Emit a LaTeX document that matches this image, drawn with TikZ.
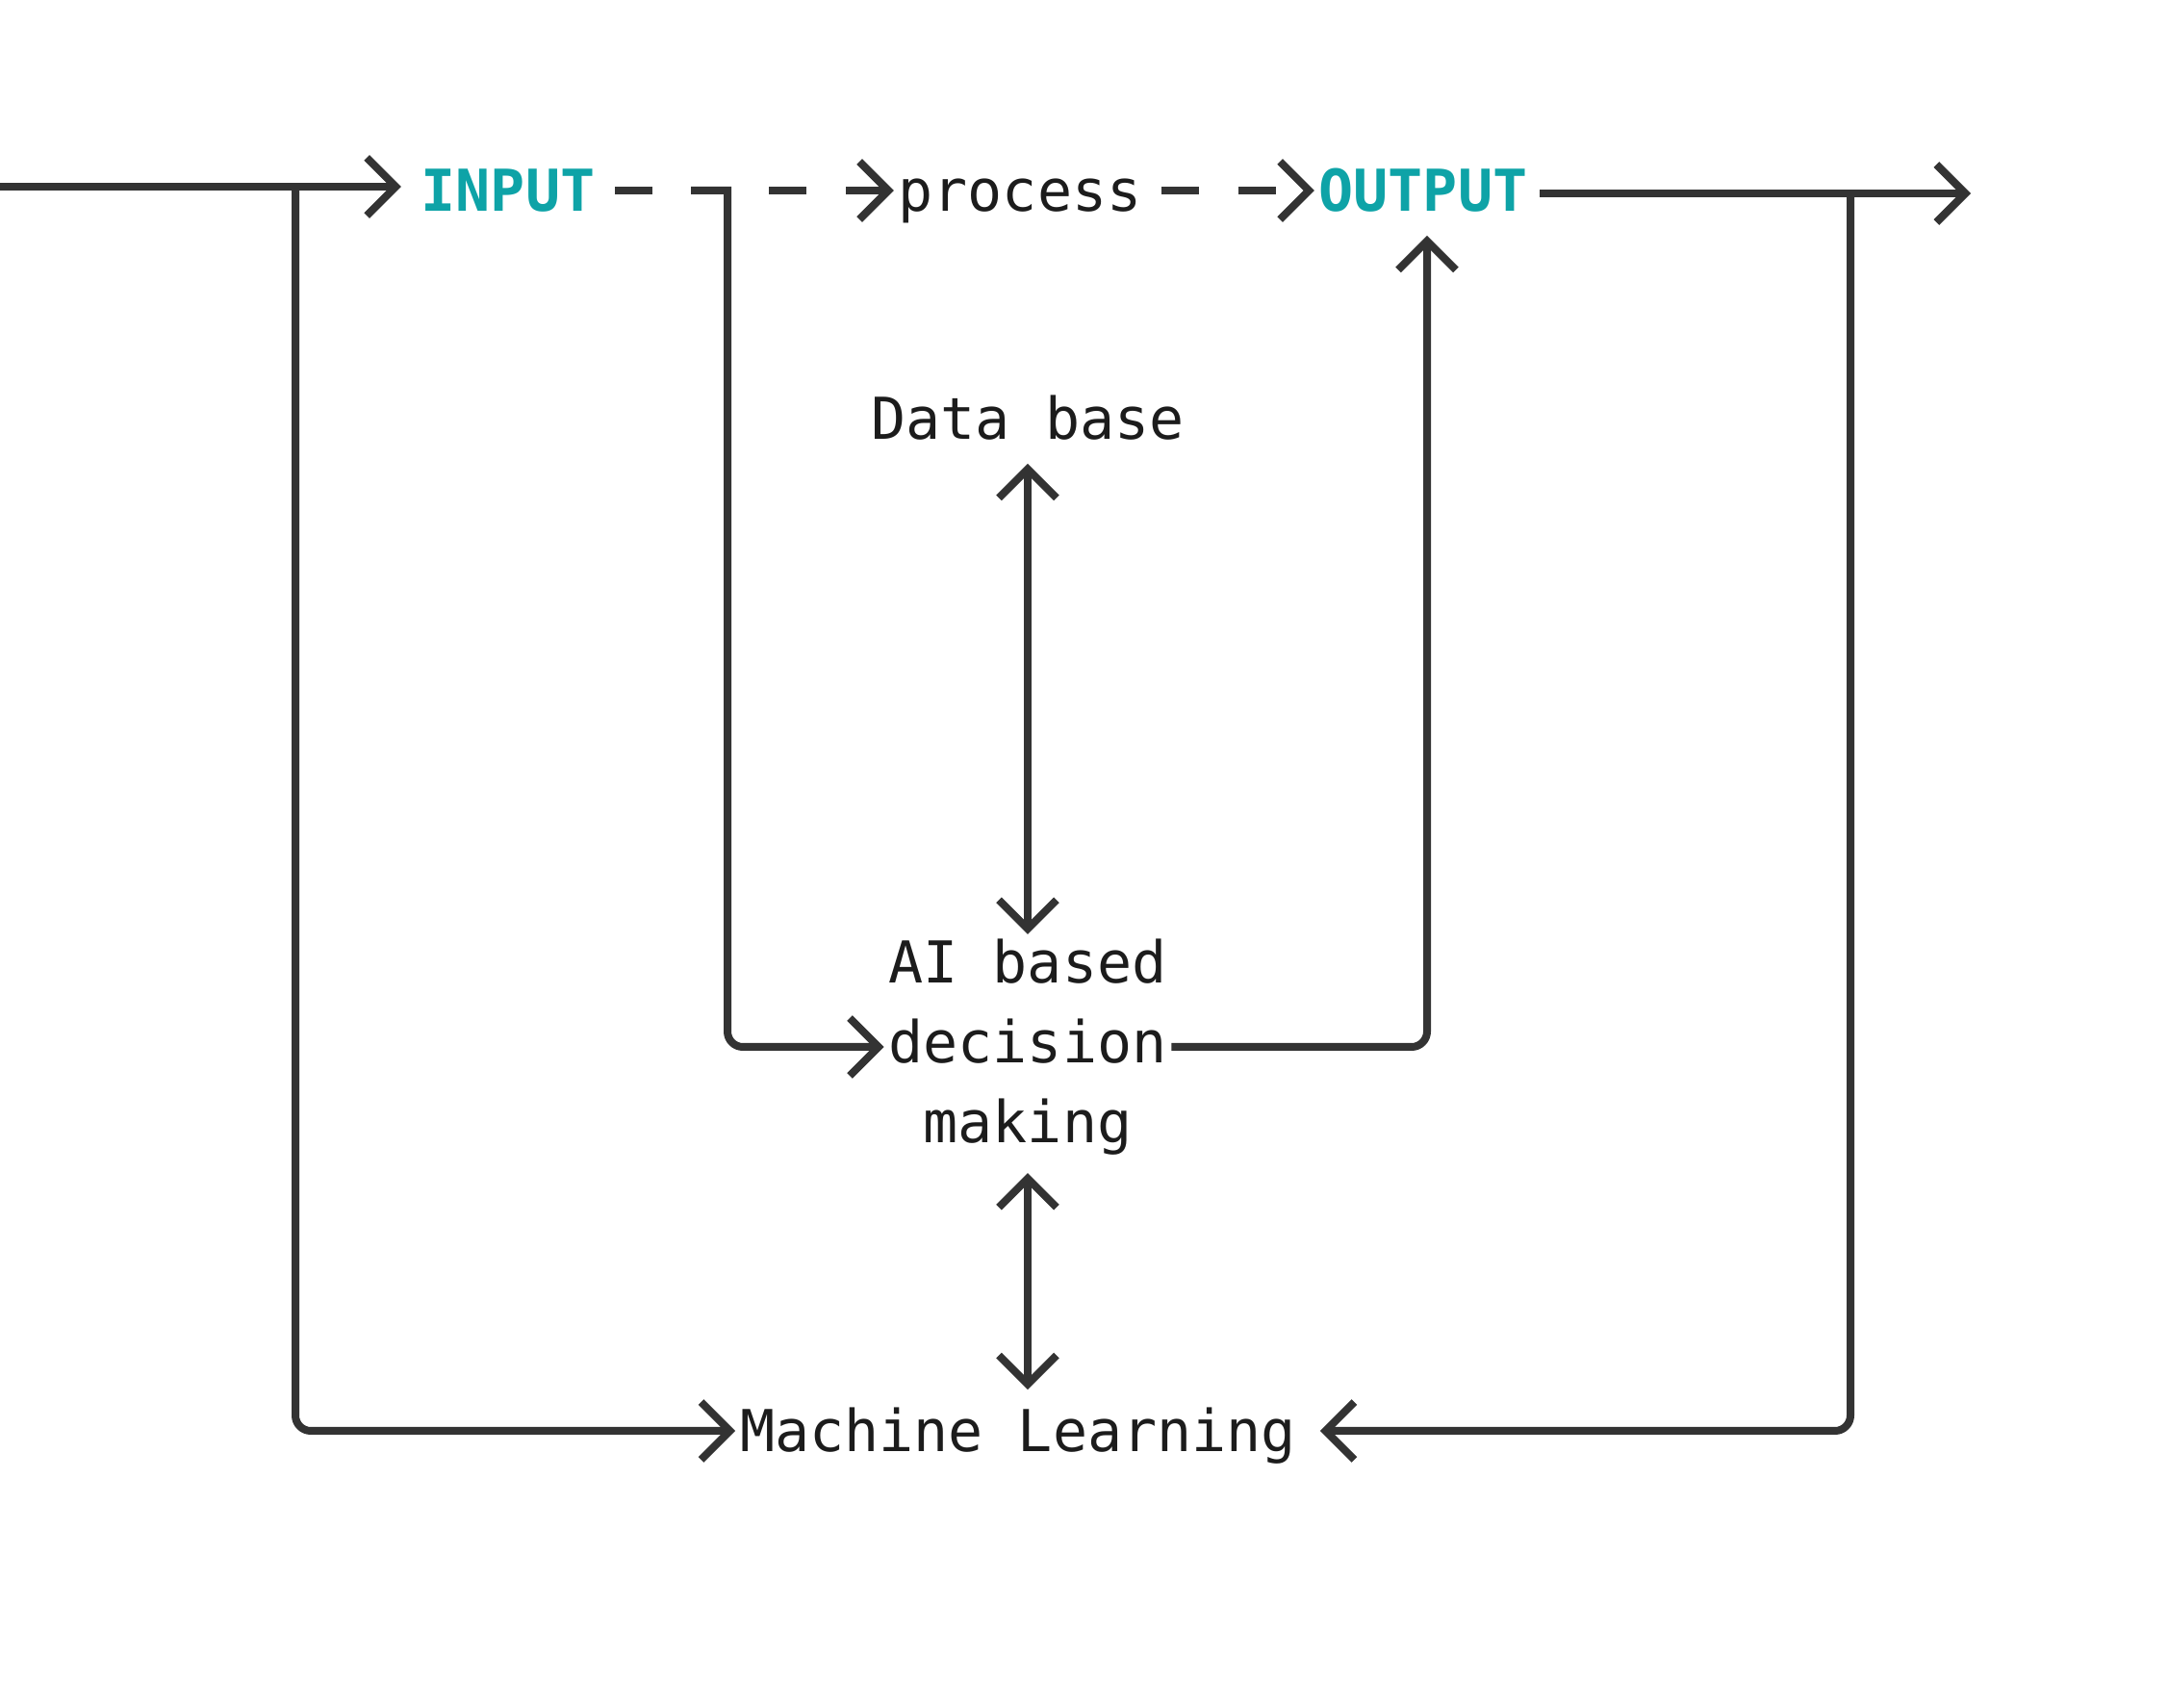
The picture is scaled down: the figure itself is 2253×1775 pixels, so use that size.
\documentclass[tikz,border=0pt]{standalone}
\usepackage{fontspec}
\newfontfamily\plexmono{DejaVu Sans Mono}
\usetikzlibrary{positioning,arrows.meta}
\definecolor{wirecol}{HTML}{333333}
\definecolor{ink}{HTML}{1C1C1C}
\definecolor{tealish}{HTML}{0EA3A7}

\begin{document}
\begin{tikzpicture}[x=0.25pt,y=-0.25pt]
                        \tikzstyle{every node}=[inner sep=1pt]
                        \tikzstyle{lbl}=[font=\plexmono\fontsize{15}{18}\selectfont,text=ink,text height=11pt,text depth=0pt]
                        \tikzstyle{io}=[lbl,font=\plexmono\bfseries\fontsize{15}{18}\selectfont,text=tealish]
                        \tikzstyle{block}=[font=\plexmono\fontsize{15}{20.75}\selectfont,text=ink,align=center]
                        \tikzstyle{wire}=[draw=wirecol,line width=2pt,-{Straight Barb[length=7.5pt,width=15pt]}]
                        \tikzstyle{twoway}=[wire,{Straight Barb[length=7.5pt,width=15pt]}-{Straight Barb[length=7.5pt,width=15pt]}]
                        \tikzstyle{dashwire}=[dash pattern=on 9.75pt off 10.25pt]
                        \useasboundingbox (0,0) rectangle (2253,1775);
                        {
                            % top row
                            \node[io] (input) at (528,198) {INPUT};
                            \node[lbl] (process) at (1060,198) {process};
                            \node[io] (output) at (1479,198) {OUTPUT};
                            % middle column
                            \node[lbl] (db) at (1068,435) {Data base};
                            \node[block] (ai) at (1068,1088) {AI based\\decision\\making};
                            \node[lbl] (ml) at (1058,1487) {Machine Learning};

                            \coordinate (start) at (0,194);
                            \coordinate (intip) at ([xshift=-4pt]input.west);
                            \coordinate (outtail) at ([xshift=2pt]output.east);
                            \coordinate (outtip) at ([xshift=1pt,yshift=-5pt]output.south);
                            \coordinate (finish) at (2048,201);
                            \coordinate (stub) at (718,198);
                            \coordinate (lturn) at (756,198);
                            \coordinate (lmid) at (756,600);
                            \coordinate (fork) at (307,196);
                            \coordinate (rfork) at (1923,201);
                            \coordinate (mltop) at ([yshift=4pt]ml.north);

                            \draw[wire] (start) -- (intip |- start);
                            \draw[wire,dashwire] ([xshift=4pt]input.east) -- (process.west);
                            \draw[wire,dashwire] ([xshift=4pt]process.east) -- (output.west);
                            \draw[wire] (outtail |- finish) -- (finish);

                            \draw[wire] (stub) -- (lturn) -- (lmid) [rounded corners=4pt] -- (lturn |- ai.west) -- (ai.west);
                            \draw[wire,rounded corners=4pt] (ai.east) -| (outtip);
                            \draw[wire,rounded corners=4pt] (fork) |- (ml.west);
                            \draw[wire,rounded corners=4pt] (rfork) |- ([xshift=5pt]ml.east);

                            \draw[twoway] ([yshift=-5pt]db.south) -- (ai.north);
                            \draw[twoway] ([yshift=-3.5pt]ai.south) -- (mltop -| ai.south);
                        }
                    \end{tikzpicture}
\end{document}
